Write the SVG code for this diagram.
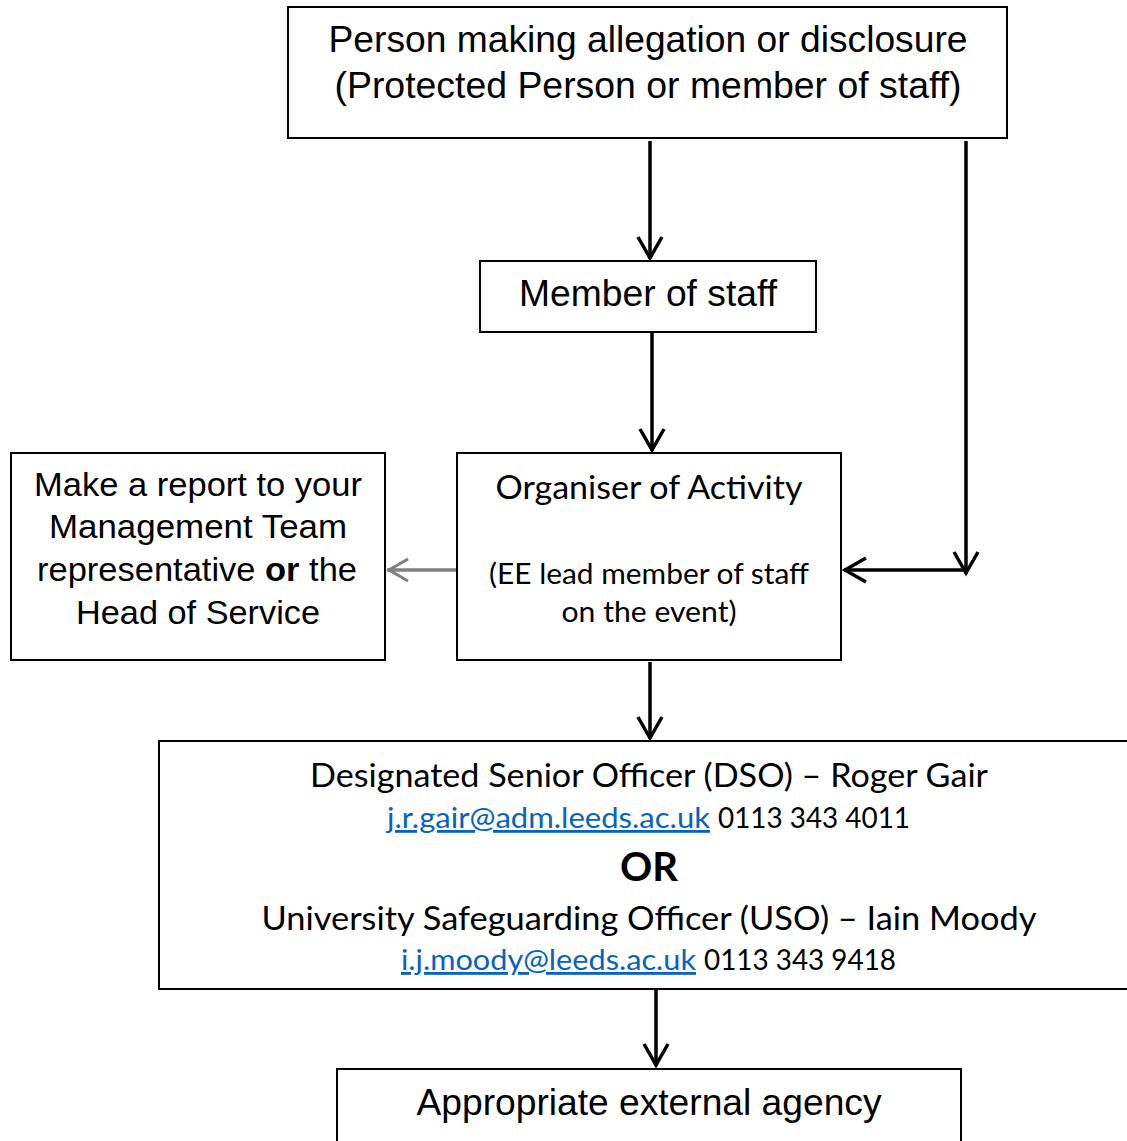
<svg xmlns="http://www.w3.org/2000/svg" width="1127" height="1141" viewBox="0 0 1127 1141">
<style>
.box{fill:#fff;stroke:#000;stroke-width:2}
.a{font-family:"Liberation Sans",Arial,sans-serif;fill:#000}
.c{font-family:Lato,"Open Sans",sans-serif;fill:#000}
.lnk{fill:#0563C1;text-decoration:underline}
.con{fill:none;stroke:#000;stroke-width:3.5}
.gray{stroke:#808080}
</style>
<defs>
<marker id="ah" markerUnits="userSpaceOnUse" markerWidth="30" markerHeight="30" viewBox="0 0 30 30" refX="25" refY="14" orient="auto">
<path d="M3,2 L24,14 L3,26" fill="none" stroke="#000" stroke-width="3.5"/>
</marker>
<marker id="ahg" markerUnits="userSpaceOnUse" markerWidth="30" markerHeight="30" viewBox="0 0 30 30" refX="25" refY="14" orient="auto">
<path d="M4,3 L23,14 L4,25" fill="none" stroke="#808080" stroke-width="3"/>
</marker>
</defs>
<g id="connectors">
<line class="con" x1="650" y1="141" x2="650" y2="259" marker-end="url(#ah)"/>
<line class="con" x1="652" y1="333" x2="652" y2="451" marker-end="url(#ah)"/>
<line class="con" x1="966" y1="141" x2="966" y2="574" marker-end="url(#ah)"/>
<line class="con" x1="966" y1="570" x2="844" y2="570" marker-end="url(#ah)"/>
<line class="con gray" x1="457" y1="570" x2="387" y2="570" stroke-width="3" marker-end="url(#ahg)"/>
<line class="con" x1="650" y1="662" x2="650" y2="739" marker-end="url(#ah)"/>
<line class="con" x1="656" y1="990" x2="656" y2="1066" marker-end="url(#ah)"/>
</g>
<g id="person">
<rect class="box" x="288" y="7" width="719" height="131"/>
<text class="a" x="648" y="52" font-size="37" text-anchor="middle" textLength="639" lengthAdjust="spacingAndGlyphs">Person making allegation or disclosure</text>
<text class="a" x="648" y="98" font-size="37" text-anchor="middle" textLength="627" lengthAdjust="spacingAndGlyphs">(Protected Person or member of staff)</text>
</g>
<g id="member">
<rect class="box" x="480" y="261" width="336" height="71"/>
<text class="a" x="648" y="306" font-size="37" text-anchor="middle" textLength="258" lengthAdjust="spacingAndGlyphs">Member of staff</text>
</g>
<g id="report">
<rect class="box" x="11" y="453" width="374" height="207"/>
<text class="a" x="198" y="496" font-size="34" text-anchor="middle" textLength="328" lengthAdjust="spacingAndGlyphs">Make a report to your</text>
<text class="a" x="198" y="538" font-size="34" text-anchor="middle" textLength="298" lengthAdjust="spacingAndGlyphs">Management Team</text>
<text class="a" x="197" y="581" font-size="34" text-anchor="middle" textLength="320" lengthAdjust="spacingAndGlyphs">representative <tspan font-weight="bold">or</tspan> the</text>
<text class="a" x="198" y="624" font-size="34" text-anchor="middle" textLength="244" lengthAdjust="spacingAndGlyphs">Head of Service</text>
</g>
<g id="organiser">
<rect class="box" x="457" y="453" width="384" height="207"/>
<text class="c" x="649" y="499" font-size="33" text-anchor="middle" textLength="307" lengthAdjust="spacingAndGlyphs">Organiser of Activity</text>
<text class="c" x="649" y="584" font-size="28" text-anchor="middle" textLength="320" lengthAdjust="spacingAndGlyphs">(EE lead member of staff</text>
<text class="c" x="649" y="622" font-size="28" text-anchor="middle" textLength="175" lengthAdjust="spacingAndGlyphs">on the event)</text>
</g>
<g id="officers">
<rect class="box" x="159" y="741" width="975" height="248"/>
<text class="c" x="649" y="787" font-size="33" text-anchor="middle" textLength="678" lengthAdjust="spacingAndGlyphs">Designated Senior Officer (DSO) – Roger Gair</text>
<text class="c lnk" x="387" y="828" font-size="28" textLength="323" lengthAdjust="spacingAndGlyphs">j.r.gair@adm.leeds.ac.uk</text>
<text class="c" x="718" y="828" font-size="28" textLength="192" lengthAdjust="spacingAndGlyphs">0113 343 4011</text>
<text class="c" x="649" y="881" font-size="40" font-weight="bold" text-anchor="middle" textLength="58" lengthAdjust="spacingAndGlyphs">OR</text>
<text class="c" x="649" y="930" font-size="33" text-anchor="middle" textLength="775" lengthAdjust="spacingAndGlyphs">University Safeguarding Officer (USO) – Iain Moody</text>
<text class="c lnk" x="401" y="970" font-size="28" textLength="295" lengthAdjust="spacingAndGlyphs">i.j.moody@leeds.ac.uk</text>
<text class="c" x="704" y="970" font-size="28" textLength="192" lengthAdjust="spacingAndGlyphs">0113 343 9418</text>
</g>
<g id="agency">
<rect class="box" x="337" y="1069" width="624" height="80"/>
<text class="a" x="649" y="1115" font-size="37" text-anchor="middle" textLength="465" lengthAdjust="spacingAndGlyphs">Appropriate external agency</text>
</g>
</svg>
